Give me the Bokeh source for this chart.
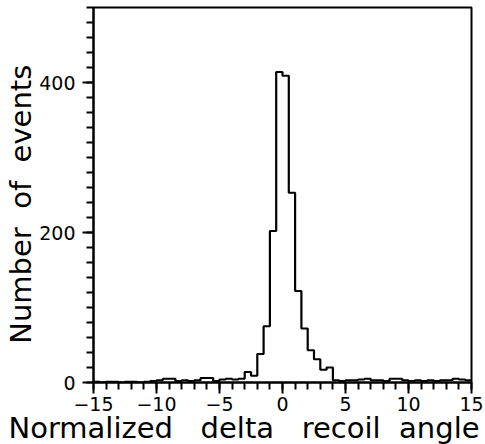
import numpy as np
from bokeh.plotting import figure
from bokeh.models import FixedTicker, Range1d, Title
from bokeh.embed import file_html
from bokeh.resources import INLINE

# Histogram of normalized delta recoil angle, bins of width 0.5 from -15 to 15
bin_start = -15.0
bin_width = 0.5
counts = [
    1, 0, 1, 1, 0, 1, 1, 0, 1, 2,      # -15 .. -10
    3, 5, 5, 2, 3, 2, 3, 6, 6, 2,      # -10 .. -5
    4, 5, 4, 5,                        # -5 .. -3
    14, 9, 38, 75, 202, 414,           # -3 .. 0
    409, 253, 122, 72, 43, 31, 17, 20, # 0 .. 4
    3, 2, 3, 3, 4, 5, 3, 3, 2, 5,      # 4 .. 9
    5, 3, 2, 3, 2, 3, 2, 3, 3, 5,      # 9 .. 14
    4, 3,                              # 14 .. 15
]

x_major = [-15, -10, -5, 0, 5, 10, 15]
x_tick_labels = ["\u221215", "\u221210", "\u22125", "0", "5", "10", "15"]
x_minor = list(range(-15, 16))
y_major = [0, 200, 400]
y_tick_labels = ["0", "200", "400"]
y_minor = list(range(0, 501, 20))

NB = "\u00a0"
x_title = "Normalized" + NB * 3 + "delta" + NB * 3 + "recoil" + NB * 2 + "angle"
y_title = "Number" + NB * 2 + "of" + NB * 2 + "events"

edges = bin_start + bin_width * np.arange(len(counts) + 1)
step_y = list(counts) + [counts[-1]]

p = figure(width=485, height=444, output_backend="svg", toolbar_location=None,
           x_range=Range1d(-15, 15), y_range=Range1d(0, 500),
           min_border_left=93, min_border_right=14, min_border_top=7,
           min_border_bottom=62)
p.background_fill_color = "white"
p.border_fill_color = "white"
p.outline_line_color = "black"
p.outline_line_width = 2
p.xgrid.visible = False
p.ygrid.visible = False

p.step(edges, step_y, mode="after", line_color="black", line_width=2.2)

font = "DejaVu Sans"
for ax, ticks, minor, labels in ((p.xaxis, x_major, x_minor, x_tick_labels),
                                 (p.yaxis, y_major, y_minor, y_tick_labels)):
    ax.ticker = FixedTicker(ticks=ticks, minor_ticks=minor)
    ax.major_label_overrides = {t: l for t, l in zip(ticks, labels)}
    ax.axis_line_color = "black"
    ax.axis_line_width = 2
    ax.major_tick_line_color = "black"
    ax.major_tick_line_width = 2
    ax.minor_tick_line_color = "black"
    ax.minor_tick_line_width = 2
    ax.major_tick_in = 0
    ax.major_tick_out = 11
    ax.minor_tick_in = 0
    ax.minor_tick_out = 7
    ax.major_label_text_font = font
    ax.major_label_text_font_size = "19px"
    ax.major_label_text_color = "black"
    ax.axis_label_text_font = font
    ax.axis_label_text_font_size = "29px"
    ax.axis_label_text_font_style = "normal"
    ax.axis_label_text_color = "black"

p.xaxis.major_label_standoff = 3
p.yaxis.major_label_standoff = 7

p.yaxis.axis_label = y_title + NB * 2
p.yaxis.axis_label_standoff = -2

# x title placed below the axis, starting left of the frame like the original
p.add_layout(Title(text=x_title, align="left", offset=-85, standoff=-10,
                   vertical_align="bottom", text_font=font,
                   text_font_size="29px", text_font_style="normal",
                   text_color="black"), "below")

open("out.html", "w").write(file_html(p, INLINE))
